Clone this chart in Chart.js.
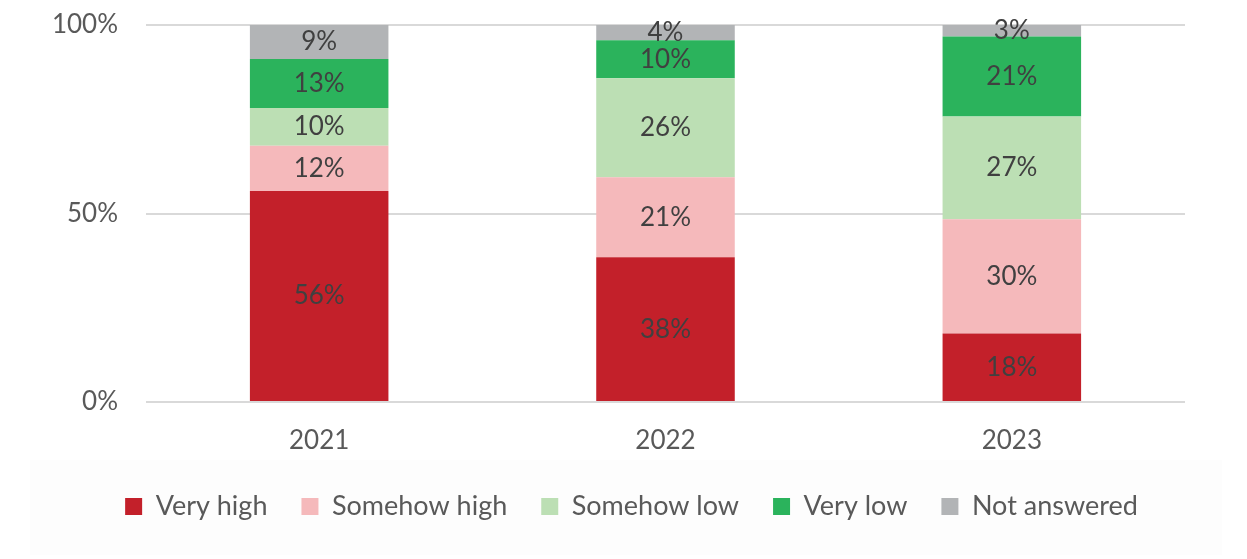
<!DOCTYPE html>
<html>
<head>
    <meta charset="utf-8">
    <title>Stacked shares</title>
    <script src="https://cdn.jsdelivr.net/npm/chart.js@4.4.1/dist/chart.umd.min.js"></script>
    <style>
        html, body { margin: 0; padding: 0; background: #ffffff; }
        #wrap { position: relative; width: 1247px; height: 559px; }
    </style>
</head>
<body>
    <div id="wrap">
        <canvas id="canvas"></canvas>
    </div>

    <script>
        // categories + series (percent labels as printed on the bars)
        const years = ['2021', '2022', '2023'];
        const veryHigh = [56, 38, 18];
        const somehowHigh = [12, 21, 30];
        const somehowLow = [10, 26, 27];
        const veryLow = [13, 10, 21];
        const notAnswered = [9, 4, 3];
        const yTicks = [0, 50, 100];

        const seriesNames = ['Very high', 'Somehow high', 'Somehow low', 'Very low', 'Not answered'];
        const seriesValues = [veryHigh, somehowHigh, somehowLow, veryLow, notAnswered];
        const colors = ['#c3202a', '#f5b9bb', '#bcdfb4', '#2bb35c', '#b2b4b6'];

        // 100% stacked: each column is scaled to its own total
        const totals = years.map((y, i) => seriesValues.reduce((s, arr) => s + arr[i], 0));

        const FONT = 'Lato, "Open Sans", sans-serif';

        // faint panel behind the legend
        const panelBg = {
            id: 'panelBg',
            beforeDraw(chart) {
                const ctx = chart.ctx;
                ctx.save();
                ctx.fillStyle = '#fdfdfd';
                ctx.fillRect(30, 460, 1192, 95);
                ctx.restore();
            }
        };

        // legend in the original sits centred on the whole page, not the plot
        const legendShift = {
            id: 'legendShift',
            afterLayout(chart) {
                const lg = chart.legend;
                if (lg) { lg.left += 39; lg.right += 39; }
            }
        };

        // value labels in the middle of each segment
        const barLabels = {
            id: 'barLabels',
            afterDatasetsDraw(chart) {
                const ctx = chart.ctx;
                ctx.save();
                ctx.font = '26px ' + FONT;
                ctx.fillStyle = '#404040';
                ctx.textAlign = 'center';
                ctx.textBaseline = 'middle';
                chart.data.datasets.forEach((ds, di) => {
                    chart.getDatasetMeta(di).data.forEach((bar, i) => {
                        const mid = (bar.y + bar.base) / 2;
                        ctx.fillText(ds.raw[i] + '%', bar.x, mid);
                    });
                });
                ctx.restore();
            }
        };

        const chart = new Chart(document.getElementById('canvas'), {
            type: 'bar',
            data: {
                labels: years,
                datasets: seriesNames.map((name, k) => ({
                    label: name,
                    raw: seriesValues[k],
                    data: seriesValues[k].map((v, i) => v / totals[i] * 100),
                    backgroundColor: colors[k],
                    borderWidth: 0,
                    categoryPercentage: 1,
                    barPercentage: 0.4
                }))
            },
            options: {
                responsive: true,
                maintainAspectRatio: false,
                animation: false,
                layout: { padding: { top: 25, right: 62, bottom: 29, left: 0 } },
                plugins: {
                    tooltip: { enabled: false },
                    legend: {
                        position: 'bottom',
                        labels: {
                            boxWidth: 17,
                            boxHeight: 17,
                            padding: 34,
                            color: '#595959',
                            font: { family: FONT, size: 27 }
                        }
                    }
                },
                scales: {
                    x: {
                        stacked: true,
                        afterFit(scale) { scale.height = 57; },
                        grid: { display: false },
                        border: { display: false },
                        ticks: {
                            color: '#595959',
                            padding: 15,
                            font: { family: FONT, size: 26 }
                        }
                    },
                    y: {
                        stacked: true,
                        min: 0,
                        max: 100,
                        afterBuildTicks(scale) {
                            scale.ticks = yTicks.map(v => ({ value: v }));
                        },
                        afterFit(scale) {
                            scale.width = 146;
                            scale.paddingTop = 0;
                            scale.paddingBottom = 0;
                        },
                        grid: { color: '#d9d9d9', lineWidth: 2, drawTicks: false },
                        border: { display: false },
                        ticks: {
                            color: '#595959',
                            padding: 28,
                            font: { family: FONT, size: 26 },
                            callback: v => v + '%'
                        }
                    }
                }
            },
            plugins: [panelBg, legendShift, barLabels]
        });
    </script>
</body>
</html>
